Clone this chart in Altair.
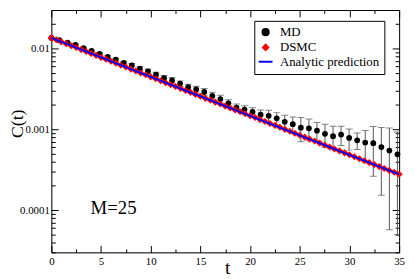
import altair as alt
import pandas as pd

# ---------------- data ----------------
md_t = [0, 0.81, 1.62, 2.43, 3.24, 4.05, 4.86, 5.67, 6.48, 7.29, 8.10, 8.91,
        9.72, 10.53, 11.34, 12.15, 12.96, 13.77, 14.58, 15.39, 16.20, 17.01,
        17.82, 18.63, 19.44, 20.25, 21.06, 21.87, 22.68, 23.49, 24.30, 25.11,
        25.92, 26.73, 27.54, 28.35, 29.16, 29.97, 30.78, 31.59, 32.40, 33.21,
        34.02, 34.83]
md_c = [0.01355, 0.01271, 0.01180, 0.01107, 0.01014, 0.00933, 0.00859, 0.00791,
        0.00728, 0.00667, 0.00621, 0.00565, 0.00523, 0.00475, 0.00430, 0.00403,
        0.00368, 0.00332, 0.00312, 0.00290, 0.00259, 0.00237, 0.00210, 0.00186,
        0.00176, 0.00164, 0.00152, 0.00147, 0.00137, 0.00124, 0.00116, 0.00105,
        0.00103, 0.000962, 0.000879, 0.000823, 0.000862, 0.000783, 0.000731,
        0.000686, 0.000673, 0.000603, 0.000547, 0.000490]
md_err = [0.0002, 0.0002, 0.0002, 0.0002, 0.0002, 0.0002, 0.0002, 0.00025,
          0.00025, 0.00025, 0.0003, 0.0003, 0.00035, 0.00035, 0.00035, 0.00035,
          0.0003, 0.0003, 0.0003, 0.0003, 0.00028, 0.00027, 0.00022, 0.0002,
          0.0002, 0.00021, 0.00022, 0.00025, 0.00024, 0.00025, 0.00026, 0.00035,
          0.00031, 0.00025, 0.00028, 0.00027, 0.00023, 0.00023, 0.00017, 0.00028,
          0.00041, 0.00045, 0.00049, 0.00044]

dsmc_t = [0, 0.5, 1, 1.5, 2, 2.5, 3, 3.5, 4, 4.5, 5, 5.5, 6, 6.5, 7, 7.5, 8, 8.5,
          9, 9.5, 10, 10.5, 11, 11.5, 12, 12.5, 13, 13.5, 14, 14.5, 15, 15.5, 16,
          16.5, 17, 17.5, 18, 18.5, 19, 19.5, 20, 20.5, 21, 21.5, 22, 22.5, 23,
          23.5, 24, 24.5, 25, 25.5, 26, 26.5, 27, 27.5, 28, 28.5, 29, 29.5, 30,
          30.5, 31, 31.5, 32, 32.5, 33, 33.5, 34, 34.5, 35]
dsmc_c = [0.01355, 0.01285, 0.01210, 0.01150, 0.01083, 0.01029, 0.00970, 0.00920,
          0.00868, 0.00824, 0.00777, 0.00738, 0.00695, 0.00660, 0.00622, 0.00590,
          0.00557, 0.00528, 0.00499, 0.00473, 0.00446, 0.00423, 0.00400, 0.00378,
          0.00358, 0.00339, 0.00320, 0.00303, 0.00287, 0.00271, 0.00257, 0.00242,
          0.00230, 0.00217, 0.00206, 0.00194, 0.00184, 0.00174, 0.00165, 0.00156,
          0.00147, 0.00140, 0.00132, 0.00125, 0.00118, 0.00112, 0.00106, 0.00100,
          0.000945, 0.000895, 0.000846, 0.000800, 0.000756, 0.000716, 0.000676,
          0.000640, 0.000605, 0.000572, 0.000541, 0.000512, 0.000484, 0.000458,
          0.000433, 0.000409, 0.000387, 0.000366, 0.000346, 0.000328, 0.000310,
          0.000294, 0.000278]

line_t = [0, 35]
line_c = [0.01355, 0.000277]

series_names = ["MD", "DSMC", "Analytic prediction"]
series_colors = ["black", "#ff0000", "#0000ff"]
series_shapes = ["circle", "diamond", "stroke"]

x_ticks = [0, 2.5, 5, 7.5, 10, 12.5, 15, 17.5, 20, 22.5, 25, 27.5, 30, 32.5, 35]
y_ticks = [3e-5, 4e-5, 5e-5, 6e-5, 7e-5, 8e-5, 9e-5,
           1e-4, 2e-4, 3e-4, 4e-4, 5e-4, 6e-4, 7e-4, 8e-4, 9e-4,
           1e-3, 2e-3, 3e-3, 4e-3, 5e-3, 6e-3, 7e-3, 8e-3, 9e-3,
           1e-2, 2e-2, 3e-2]

annot_t = [3.95]
annot_c = [1.05e-4]
annot_text = ["M=25"]

# ---------------- frames ----------------
md_df = pd.DataFrame({"t": md_t, "c": md_c, "e": md_err, "series": "MD"})
dsmc_df = pd.DataFrame({"t": dsmc_t, "c": dsmc_c, "series": "DSMC"})
line_df = pd.DataFrame({"t": line_t, "c": line_c, "series": "Analytic prediction"})
annot_df = pd.DataFrame({"t": annot_t, "c": annot_c, "txt": annot_text})

W, H = 353, 246
FONT = "Liberation Serif"

xs = alt.Scale(domain=[0, 35], nice=False, zero=False)
ys = alt.Scale(type="log", domain=[3e-5, 0.03], nice=False)

x_major = "datum.value % 5 == 0"
y_major = "abs(log(datum.value)/LN10 - round(log(datum.value)/LN10)) < 0.001"

x_axis_bottom = alt.Axis(
    values=x_ticks, labelExpr=f"{x_major} ? datum.label : ''",
    tickSize={"expr": f"{x_major} ? -7 : -3.5"},
    labelPadding=10, labelFont=FONT, labelFontSize=11, labelColor="black",
    title="t", titleFont=FONT, titleFontSize=20, titleFontWeight="normal",
    titleX=W / 2 + 2, titleY=21, titleBaseline="alphabetic", titleAlign="center",
    grid=False, domainColor="black", tickColor="black", labelFlush=False,
)
y_axis_left = alt.Axis(
    values=y_ticks, labelExpr=f"{y_major} ? format(datum.value, '~g') : ''",
    tickSize={"expr": f"{y_major} ? -7 : -4"},
    labelPadding=9, labelFont=FONT, labelFontSize=11, labelColor="black",
    title="C(t)", titleFont=FONT, titleFontSize=18, titleFontWeight="normal",
    titleX=-34, titleY=H / 2 - 8, titleAngle=270, titleBaseline="middle",
    titleAlign="center",
    grid=False, domainColor="black", tickColor="black", labelFlush=False,
)
x_axis_top = alt.Axis(
    orient="top", values=x_ticks, labels=False, title=None,
    tickSize={"expr": f"{x_major} ? -7 : -3.5"},
    grid=False, domainColor="black", tickColor="black",
)
y_axis_right = alt.Axis(
    orient="right", values=y_ticks, labels=False, title=None,
    tickSize={"expr": f"{y_major} ? -7 : -4"},
    grid=False, domainColor="black", tickColor="black",
)

legend = alt.Legend(
    title=None, orient="none", legendX=206, legendY=11,
    strokeColor="black", fillColor="white", padding=5, cornerRadius=0,
    labelFont=FONT, labelFontSize=13, labelColor="black", labelLimit=300,
    labelOffset=8, rowPadding=0.5, symbolStrokeWidth=2,
    symbolSize={"expr": "datum.value === 'Analytic prediction' ? 196 : (datum.value === 'DSMC' ? 30 : 40)"},
)
color_enc = alt.Color("series:N", scale=alt.Scale(domain=series_names, range=series_colors), legend=legend)
shape_enc = alt.Shape("series:N", scale=alt.Scale(domain=series_names, range=series_shapes), legend=legend)

err_base = alt.Chart(md_df).transform_calculate(
    lo="datum.c - datum.e", hi="datum.c + datum.e"
)
err_rule = err_base.mark_rule(color="#555555", strokeWidth=1, clip=True).encode(
    x=alt.X("t:Q", scale=xs, axis=x_axis_bottom),
    y=alt.Y("lo:Q", scale=ys, axis=y_axis_left),
    y2="hi:Q",
)
err_lo = err_base.mark_tick(color="#555555", thickness=1, size=7, orient="horizontal", clip=True).encode(
    x=alt.X("t:Q", scale=xs, axis=None), y=alt.Y("lo:Q", scale=ys, axis=None))
err_hi = err_base.mark_tick(color="#555555", thickness=1, size=7, orient="horizontal", clip=True).encode(
    x=alt.X("t:Q", scale=xs, axis=None), y=alt.Y("hi:Q", scale=ys, axis=None))

md_pts = alt.Chart(md_df).mark_point(filled=True, opacity=1, size=34).encode(
    x=alt.X("t:Q", scale=xs, axis=None), y=alt.Y("c:Q", scale=ys, axis=None),
    color=color_enc, shape=shape_enc)
dsmc_pts = alt.Chart(dsmc_df).mark_point(filled=True, opacity=1, size=52).encode(
    x=alt.X("t:Q", scale=xs, axis=None), y=alt.Y("c:Q", scale=ys, axis=None),
    color=color_enc, shape=shape_enc)
line = alt.Chart(line_df).mark_line(strokeWidth=1.8).encode(
    x=alt.X("t:Q", scale=xs, axis=x_axis_top), y=alt.Y("c:Q", scale=ys, axis=y_axis_right),
    color=color_enc)
annot = alt.Chart(annot_df).mark_text(align="left", baseline="middle", font=FONT,
                                      fontSize=19, color="black").encode(
    x=alt.X("t:Q", scale=xs, axis=None), y=alt.Y("c:Q", scale=ys, axis=None), text="txt:N")

chart = alt.layer(err_rule, err_lo, err_hi, md_pts, dsmc_pts, line, annot).resolve_axis(
    x="independent", y="independent"
).properties(
    width=W, height=H,
    autosize=alt.AutoSizeParams(type="none"),
    padding={"left": 44, "right": 8, "top": 0, "bottom": 25},
).configure_view(stroke="black", strokeWidth=1).configure(background="white")

chart.save("out.html", embed_options={"renderer": "svg", "actions": False})
